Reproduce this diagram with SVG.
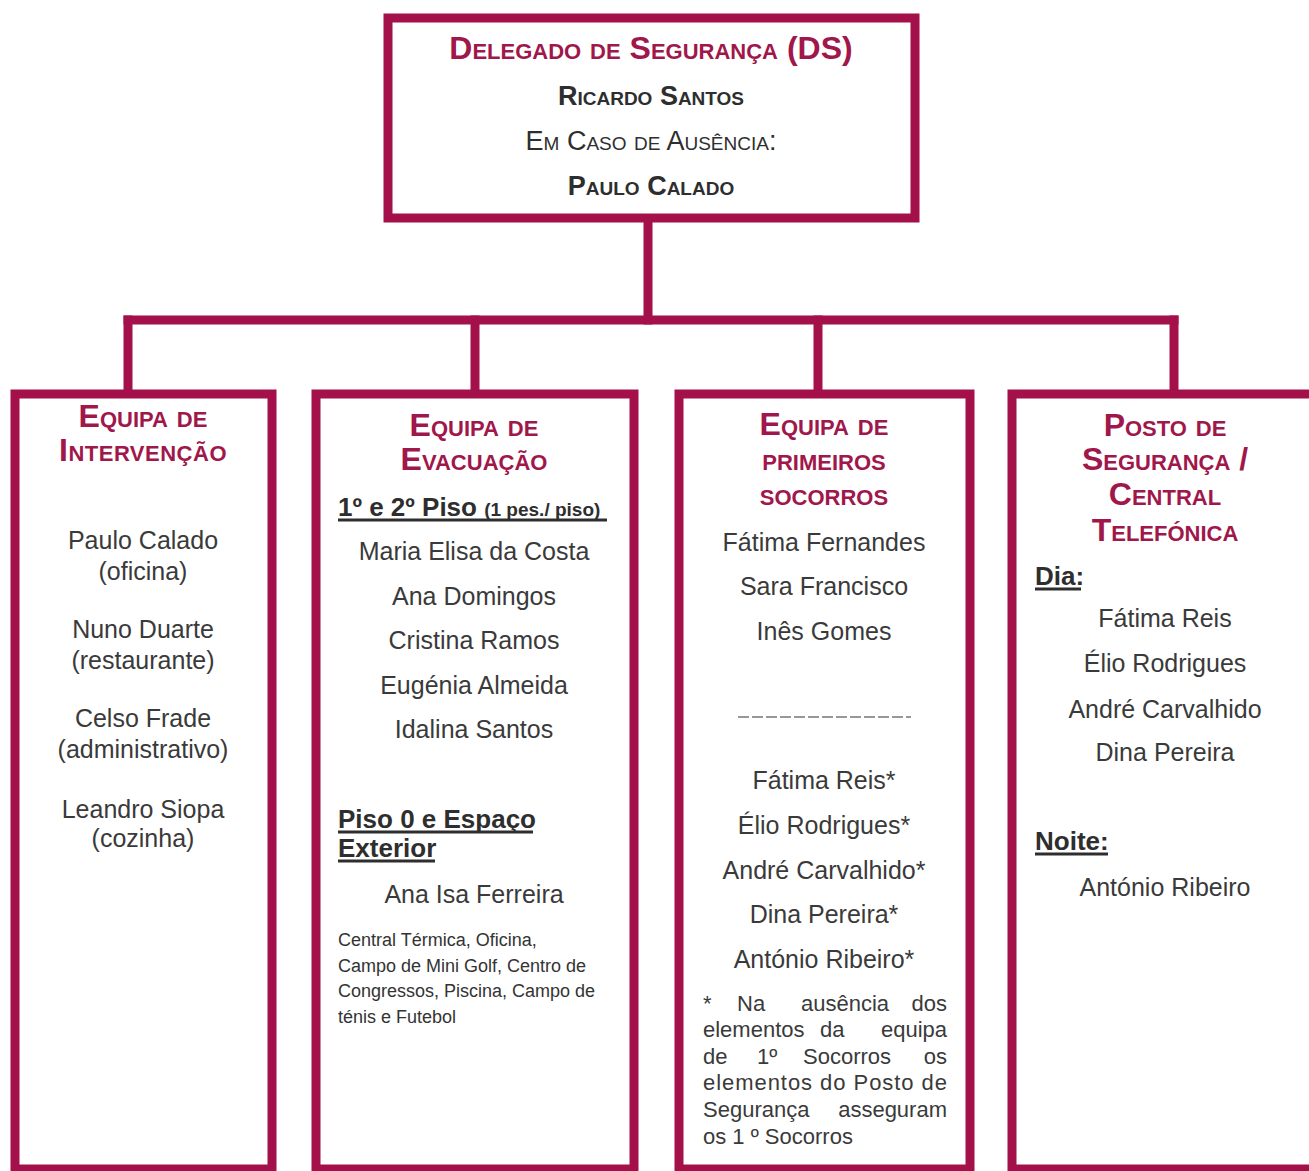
<svg xmlns="http://www.w3.org/2000/svg" width="1309" height="1171" viewBox="0 0 1309 1171">
<style>
.box{fill:#fff;stroke:#A3104A;stroke-width:9}
.conn{fill:none;stroke:#A3104A;stroke-width:9;stroke-linecap:square}
.h{font-family:"Liberation Sans",Arial,sans-serif;font-weight:bold;font-variant:small-caps;fill:#A0174B;text-anchor:middle;font-size:32px}
.s{font-family:"Liberation Sans",Arial,sans-serif;font-variant:small-caps;fill:#2e2e2e;text-anchor:middle;font-size:27px}
.n{font-family:"Liberation Sans",Arial,sans-serif;fill:#3a3a3a;text-anchor:middle;font-size:25px}
.b{font-family:"Liberation Sans",Arial,sans-serif;font-weight:bold;fill:#2e2e2e;font-size:26px}
.sm{font-family:"Liberation Sans",Arial,sans-serif;fill:#333;font-size:18px}
.fn{font-family:"Liberation Sans",Arial,sans-serif;fill:#3a3a3a;font-size:22px}
.ul{stroke:#2e2e2e;stroke-width:3}
</style>
<g id="connectors">
<line class="conn" x1="648" y1="222" x2="648" y2="320"/>
<line class="conn" x1="128" y1="320" x2="1174" y2="320"/>
<line class="conn" x1="128" y1="320" x2="128" y2="390"/>
<line class="conn" x1="475" y1="320" x2="475" y2="390"/>
<line class="conn" x1="818" y1="320" x2="818" y2="390"/>
<line class="conn" x1="1174" y1="320" x2="1174" y2="390"/>
</g>
<g id="ds">
<rect class="box" x="388" y="18" width="527" height="200"/>
<text class="h" x="651" y="59" font-size="33px">Delegado de Segurança (DS)</text>
<text class="s" x="651" y="105" font-weight="bold">Ricardo Santos</text>
<text class="s" x="651" y="150">Em Caso de Ausência:</text>
<text class="s" x="651" y="195" font-weight="bold">Paulo Calado</text>
</g>
<g id="intervencao">
<rect class="box" x="15" y="394" width="257" height="775"/>
<text class="h" x="143" y="427">Equipa de</text>
<text class="h" x="143" y="461" letter-spacing="0.5">Intervenção</text>
<text class="n" x="143" y="549">Paulo Calado</text>
<text class="n" x="143" y="580">(oficina)</text>
<text class="n" x="143" y="638">Nuno Duarte</text>
<text class="n" x="143" y="669">(restaurante)</text>
<text class="n" x="143" y="727">Celso Frade</text>
<text class="n" x="143" y="758">(administrativo)</text>
<text class="n" x="143" y="818">Leandro Siopa</text>
<text class="n" x="143" y="847">(cozinha)</text>
</g>
<g id="evacuacao">
<rect class="box" x="316" y="394" width="318" height="775"/>
<text class="h" x="474" y="436">Equipa de</text>
<text class="h" x="474" y="470">Evacuação</text>
<text class="b" x="338" y="516">1º e 2º Piso <tspan font-size="19px">(1 pes./ piso)</tspan></text>
<line class="ul" x1="338" y1="520" x2="607" y2="520"/>
<text class="n" x="474" y="560">Maria Elisa da Costa</text>
<text class="n" x="474" y="605">Ana Domingos</text>
<text class="n" x="474" y="649">Cristina Ramos</text>
<text class="n" x="474" y="694">Eugénia Almeida</text>
<text class="n" x="474" y="738">Idalina Santos</text>
<text class="b" x="338" y="828">Piso 0 e Espaço</text>
<line class="ul" x1="338" y1="832" x2="533" y2="832"/>
<text class="b" x="338" y="857">Exterior</text>
<line class="ul" x1="338" y1="861" x2="435" y2="861"/>
<text class="n" x="474" y="903">Ana Isa Ferreira</text>
<text class="sm" x="338" y="946">Central Térmica, Oficina,</text>
<text class="sm" x="338" y="972">Campo de Mini Golf, Centro de</text>
<text class="sm" x="338" y="997">Congressos, Piscina, Campo de</text>
<text class="sm" x="338" y="1023">ténis e Futebol</text>
</g>
<g id="primeiros-socorros">
<rect class="box" x="679" y="394" width="291" height="775"/>
<text class="h" x="824" y="435">Equipa de</text>
<text class="h" x="824" y="470">primeiros</text>
<text class="h" x="824" y="505">socorros</text>
<text class="n" x="824" y="551">Fátima Fernandes</text>
<text class="n" x="824" y="595">Sara Francisco</text>
<text class="n" x="824" y="640">Inês Gomes</text>
<line x1="738" y1="717" x2="911" y2="717" stroke="#777" stroke-width="1.3" stroke-dasharray="11 3"/>
<text class="n" x="824" y="789">Fátima Reis*</text>
<text class="n" x="824" y="834">Élio Rodrigues*</text>
<text class="n" x="824" y="879">André Carvalhido*</text>
<text class="n" x="824" y="923">Dina Pereira*</text>
<text class="n" x="824" y="968">António Ribeiro*</text>
<text class="fn" x="703" y="1011">*</text>
<text class="fn" x="737" y="1011">Na</text>
<text class="fn" x="801" y="1011">ausência</text>
<text class="fn" x="947" y="1011" text-anchor="end">dos</text>
<text class="fn" x="703" y="1037">elementos</text>
<text class="fn" x="820" y="1037">da</text>
<text class="fn" x="947" y="1037" text-anchor="end">equipa</text>
<text class="fn" x="703" y="1064">de</text>
<text class="fn" x="757" y="1064">1º</text>
<text class="fn" x="803" y="1064">Socorros</text>
<text class="fn" x="947" y="1064" text-anchor="end">os</text>
<text class="fn" x="703" y="1090" textLength="244" lengthAdjust="spacing">elementos do Posto de</text>
<text class="fn" x="703" y="1117">Segurança</text>
<text class="fn" x="947" y="1117" text-anchor="end">asseguram</text>
<text class="fn" x="703" y="1144">os 1 º Socorros</text>
</g>
<g id="posto-seguranca">
<rect class="box" x="1012" y="394" width="305" height="775"/>
<text class="h" x="1165" y="436">Posto de</text>
<text class="h" x="1165" y="470">Segurança /</text>
<text class="h" x="1165" y="505">Central</text>
<text class="h" x="1165" y="541">Telefónica</text>
<text class="b" x="1035" y="585" font-size="25px">Dia:</text>
<line class="ul" x1="1035" y1="589" x2="1081" y2="589"/>
<text class="n" x="1165" y="627">Fátima Reis</text>
<text class="n" x="1165" y="672">Élio Rodrigues</text>
<text class="n" x="1165" y="718">André Carvalhido</text>
<text class="n" x="1165" y="761">Dina Pereira</text>
<text class="b" x="1035" y="850" font-size="25px">Noite:</text>
<line class="ul" x1="1035" y1="854" x2="1108" y2="854"/>
<text class="n" x="1165" y="896">António Ribeiro</text>
</g>
</svg>
